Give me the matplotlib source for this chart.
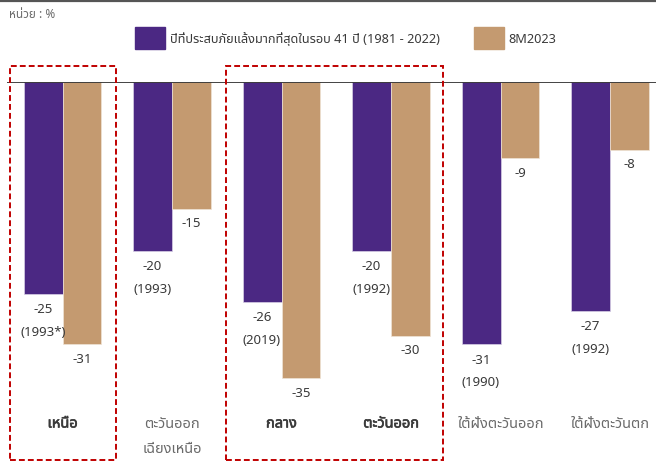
import matplotlib
matplotlib.use("Agg")
import matplotlib.pyplot as plt
from matplotlib import font_manager, patheffects
from matplotlib.ft2font import FT2Font
from matplotlib.patches import Rectangle
from matplotlib.lines import Line2D
import numpy as np

# ---- data ---------------------------------------------------------------
regions = ["เหนือ", "ตะวันออก\nเฉียงเหนือ", "กลาง", "ตะวันออก",
           "ใต้ฝั่งตะวันออก", "ใต้ฝั่งตะวันตก"]
worst_drought = [-25, -20, -26, -20, -31, -27]
worst_years = ["(1993*)", "(1993)", "(2019)", "(1992)", "(1990)", "(1992)"]
rain_8m2023 = [-31, -15, -35, -30, -9, -8]
highlighted = [True, False, True, True, False, False]
series_names = ["ปีที่ประสบภัยแล้งมากที่สุดในรอบ 41 ปี (1981 - 2022)", "8M2023"]
unit_label = "หน่วย : %"

PURPLE = "#4B2883"
TAN = "#C49A70"
TEXT = "#3a3a3a"
TEXT_LIGHT = "#6a6a6a"


# ---- pick a font that can draw Thai --------------------------------------
def thai_family():
    probe = [ord(c) for c in "หนือปีที่"]
    preferred = ["Noto Sans Thai", "Noto Sans Thai UI", "Tlwg Typist", "Loma",
                 "Garuda", "Norasi", "Kinnari", "Waree", "Umpush", "Sawasdee",
                 "Laksaman", "Noto Looped Thai", "Noto Serif Thai"]
    found = {}
    for path in font_manager.findSystemFonts():
        try:
            f = FT2Font(path)
            cmap = f.get_charmap()
        except Exception:
            continue
        if all(p in cmap for p in probe):
            try:
                name = font_manager.FontProperties(fname=path).get_name()
            except Exception:
                continue
            found.setdefault(name, path)
    for p in preferred:
        if p in found:
            return p
    return sorted(found)[0] if found else None


th = thai_family()
families = ([th] if th else []) + ["Noto Sans", "DejaVu Sans"]
plt.rcParams["font.family"] = families
plt.rcParams["font.size"] = 9

W, H = 656, 464
fig = plt.figure(figsize=(W / 100, H / 100), dpi=100)


def fx(x):
    return x / W


def fy(y):
    return 1 - y / H


# plot area: baseline at y=83px, bottom of figure at 464px
ax = fig.add_axes([fx(7), fy(464), fx(656) - fx(7), fy(83) - fy(464)])
ax.set_xlim(-0.507, 5.42)
ax.set_ylim(-45, 0)
ax.axis("off")

x = np.arange(len(regions))
bw = 0.356
ax.bar(x - bw / 2, worst_drought, bw, color=PURPLE, edgecolor="#d8d0e6",
       linewidth=0.5, zorder=2)
ax.bar(x + bw / 2, rain_8m2023, bw, color=TAN, edgecolor="#efe3d6",
       linewidth=0.5, zorder=2)
ax.axhline(0, color="#222222", lw=1.2, zorder=3)

num_font = dict(family=families, fontsize=9.5, color=TEXT)
for i in range(len(regions)):
    ax.annotate(f"{worst_drought[i]}", (x[i] - bw / 2, worst_drought[i]),
                xytext=(0, -10.5), textcoords="offset points",
                ha="center", va="center", **num_font)
    ax.annotate(worst_years[i], (x[i] - bw / 2, worst_drought[i]),
                xytext=(0, -27), textcoords="offset points",
                ha="center", va="center", **num_font)
    ax.annotate(f"{rain_8m2023[i]}", (x[i] + bw / 2, rain_8m2023[i]),
                xytext=(0, -10), textcoords="offset points",
                ha="center", va="center", **num_font)

cat_y = 1 - (425 - 83) / (464 - 83)
line_gap = 25 / (464 - 83)
for i, name in enumerate(regions):
    lines = name.split("\n")
    color = TEXT if highlighted[i] else TEXT_LIGHT
    effects = ([patheffects.withStroke(linewidth=0.45, foreground=color)]
               if highlighted[i] else None)
    for k, ln in enumerate(lines):
        ax.text(x[i], cat_y - k * line_gap, ln,
                transform=ax.get_xaxis_transform(),
                ha="center", va="center", fontsize=10.5,
                family=families,
                fontweight="bold" if highlighted[i] else "normal",
                color=color, path_effects=effects)

# dashed frames around the highlighted regions
for (x0, x1) in [(10, 116), (226, 443)]:
    fig.patches.append(Rectangle((fx(x0), fy(461)), fx(x1) - fx(x0),
                                 fy(67) - fy(461), transform=fig.transFigure,
                                 fill=False, edgecolor="#C00000", lw=1.4,
                                 linestyle=(0, (3, 1.6)), zorder=5))

# rule across the top
fig.add_artist(Line2D([0, 1], [fy(2), fy(2)], transform=fig.transFigure,
                      color="#555555", lw=1.6))

fig.text(fx(9), fy(14), unit_label, ha="left", va="center", fontsize=8.5,
         color=TEXT_LIGHT, family=families)

handles = [Rectangle((0, 0), 1, 1, color=PURPLE),
           Rectangle((0, 0), 1, 1, color=TAN)]
fig.legend(handles, series_names, loc="center",
           bbox_to_anchor=(fx(346), fy(39)), ncol=2, frameon=False,
           handlelength=2.35, handleheight=2.3, handletextpad=0.35,
           columnspacing=2.7, prop=dict(family=families, size=9.2),
           labelcolor=TEXT, borderpad=0.2)

fig.savefig("out.png", dpi=100)
